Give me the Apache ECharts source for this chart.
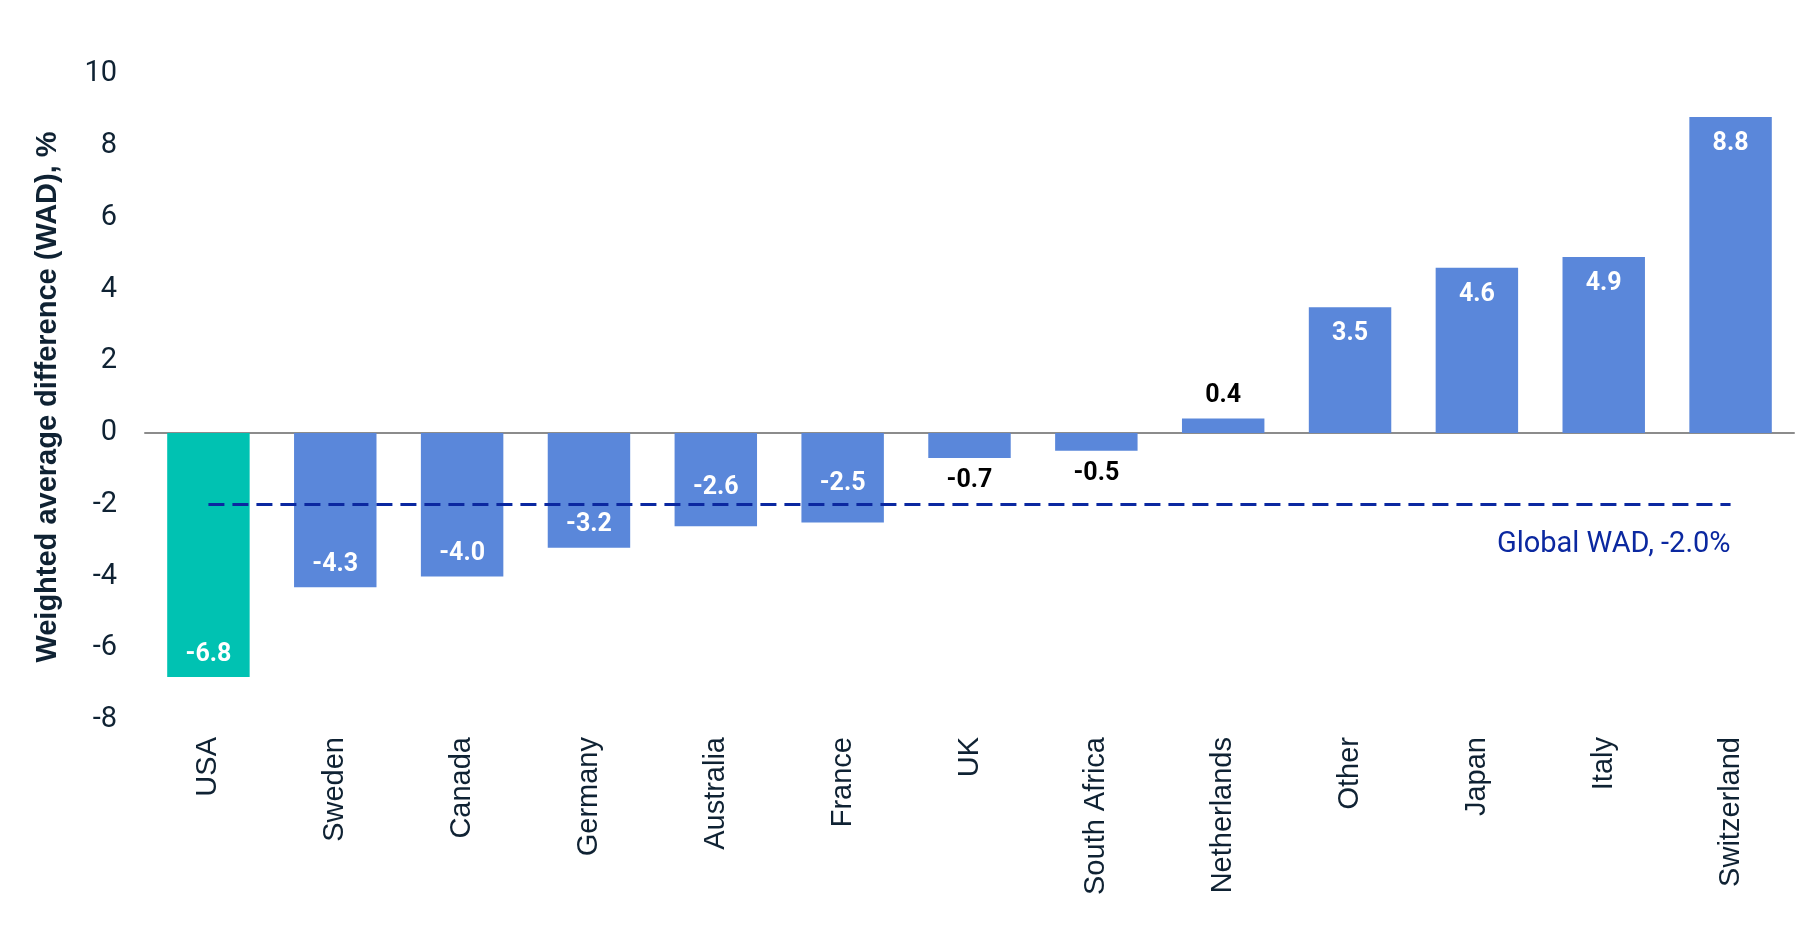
<!DOCTYPE html>
<html lang="en">
	<head>
		<meta charset="UTF-8">
		<title>Weighted average difference</title>
		<script src="https://cdn.jsdelivr.net/npm/echarts@6/dist/echarts.min.js"></script>
		<style>
			html, body {
				margin: 0;
				padding: 0;
				background: #fff;
			}
			#main {
				width: 1812px;
				height: 937px;
			}
		</style>
	</head>

	<body>
		<div id="main"></div>
	</body>

	<script>
		// data
		const countries = ['USA', 'Sweden', 'Canada', 'Germany', 'Australia', 'France', 'UK',
			'South Africa', 'Netherlands', 'Other', 'Japan', 'Italy', 'Switzerland'];
		const wadValues = [-6.8, -4.3, -4.0, -3.2, -2.6, -2.5, -0.7, -0.5, 0.4, 3.5, 4.6, 4.9, 8.8];
		const globalWad = -2.0;
		const yMin = -8;
		const yMax = 10;
		const yStep = 2;

		const teal = '#00c2b2';
		const blue = '#5a87da';
		const navy = '#0f2233';
		const lineBlue = '#0b28a0';

		function barItems() {
			let items = [];
			for (let i = 0; i < wadValues.length; i++) {
				let v = wadValues[i];
				let small = Math.abs(v) < 1;
				let pos, dist;
				if (small) {
					pos = v < 0 ? 'bottom' : 'top';
					dist = 10;
				} else if (v < 0) {
					pos = 'insideBottom';
					// lift labels that would sit on the global line
					dist = Math.abs(v - globalWad) < 1 ? 26 : 10;
				} else {
					pos = 'insideTop';
					dist = 14;
				}
				items.push({
					value: v,
					itemStyle: {
						color: countries[i] === 'USA' ? teal : blue
					},
					label: {
						position: pos,
						color: small ? '#000' : '#fff',
						distance: dist
					}
				});
			}
			return items;
		}

		let option = {
			animation: false,
			grid: {
				left: 145,
				right: 18,
				top: 74,
				bottom: 217
			},
			xAxis: {
				type: 'category',
				data: countries,
				axisTick: { show: false },
				axisLine: {
					lineStyle: { color: '#8c8c8c', width: 2 }
				},
				axisLabel: {
					rotate: 90,
					interval: 0,
					margin: 17,
					color: navy,
					fontFamily: 'Liberation Sans',
					fontSize: 29
				}
			},
			yAxis: {
				type: 'value',
				min: yMin,
				max: yMax,
				interval: yStep,
				name: 'Weighted average difference (WAD), %',
				nameLocation: 'middle',
				nameGap: 83,
				nameTextStyle: {
					color: navy,
					fontFamily: 'Liberation Sans',
					fontWeight: 'bold',
					fontSize: 29
				},
				splitLine: { show: false },
				axisLine: { show: false },
				axisTick: { show: false },
				axisLabel: {
					margin: 28,
					color: navy,
					fontFamily: 'Roboto',
					fontSize: 29
				}
			},
			series: [{
				type: 'bar',
				barCategoryGap: '35%',
				data: barItems(),
				label: {
					show: true,
					fontFamily: 'Roboto',
					fontWeight: 'bold',
					fontSize: 25,
					formatter: (p) => p.value.toFixed(1)
				},
				markLine: {
					silent: true,
					symbol: 'none',
					lineStyle: {
						color: lineBlue,
						type: [16, 8],
						width: 3
					},
					label: {
						position: 'insideEndBottom',
						distance: [0, 26],
						color: lineBlue,
						fontFamily: 'Roboto',
						fontSize: 29,
						formatter: 'Global WAD, ' + globalWad.toFixed(1) + '%'
					},
					data: [[
						{ coord: [countries[0], globalWad] },
						{ coord: [countries[countries.length - 1], globalWad] }
					]]
				}
			}]
		};

		let echart = echarts.init(document.getElementById('main'));
		echart.setOption(option);
	</script>
</html>
